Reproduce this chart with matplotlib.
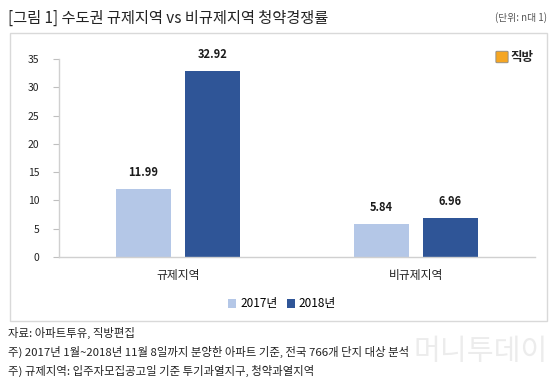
import matplotlib
matplotlib.use("Agg")
import matplotlib.pyplot as plt
from matplotlib.patches import Rectangle, FancyBboxPatch
import numpy as np

plt.rcParams['font.family'] = ['Noto Sans CJK KR', 'DejaVu Sans']

categories = ['규제지역', '비규제지역']
series_names = ['2017년', '2018년']
values_2017 = [11.99, 5.84]
values_2018 = [32.92, 6.96]
yticks = [0, 5, 10, 15, 20, 25, 30, 35]
colors = ['#B4C7E7', '#2F5597']

W, H = 559, 379
fig = plt.figure(figsize=(W/100, H/100), dpi=100)

def fx(px): return px / W
def fy(py): return 1 - py / H

# chart box
fig.patches.append(Rectangle((fx(10), fy(321)), fx(547) - fx(10), fy(33) - fy(321),
                             transform=fig.transFigure, facecolor='white',
                             edgecolor='#D9D9D9', linewidth=1.0, zorder=-10))

ax = fig.add_axes([fx(59), fy(257), fx(535) - fx(59), fy(59) - fy(257)])
ax.set_zorder(5)
ax.set_facecolor('none')
x = np.arange(len(categories))
bw = 0.227
off = 0.145
b1 = ax.bar(x - off, values_2017, bw, color=colors[0], label=series_names[0])
b2 = ax.bar(x + off, values_2018, bw, color=colors[1], label=series_names[1])
for bars, vals in ((b1, values_2017), (b2, values_2018)):
    for r, v in zip(bars, vals):
        ax.annotate(f'{v:.2f}', (r.get_x() + r.get_width()/2, v), xytext=(0, 7),
                    textcoords='offset points', ha='center', va='bottom',
                    fontsize=8, fontweight='bold', color='#1a1a1a')
ax.set_xlim(-0.5, 1.5)
ax.set_ylim(0, 35)
ax.set_yticks(yticks)
ax.set_xticks(x)
ax.set_xticklabels(categories, fontsize=8.5, color='#222222')
ax.tick_params(axis='x', length=0, pad=9)
ax.tick_params(axis='y', length=4, width=0.8, color='#BFBFBF', labelsize=7.5,
               labelcolor='#222222', pad=10)
for s in ['top', 'right']:
    ax.spines[s].set_visible(False)
for s in ['left', 'bottom']:
    ax.spines[s].set_color('#D0D0D0')
    ax.spines[s].set_linewidth(1.0)

leg = fig.legend(handles=[b1, b2], labels=series_names, loc='center',
                 bbox_to_anchor=(fx(282), fy(304)), ncol=2, frameon=False,
                 fontsize=8.5, handlelength=0.7, handleheight=0.7,
                 handletextpad=0.3, columnspacing=0.8)

# title
fig.text(fx(8), fy(18), '[그림 1] 수도권 규제지역 vs 비규제지역 청약경쟁률',
         fontsize=11, color='#222222', ha='left', va='center', fontweight='medium')
fig.text(fx(547), fy(18), '(단위: n대 1)', fontsize=7, color='#555555',
         ha='right', va='center')

# logo
fig.patches.append(FancyBboxPatch((fx(497), fy(62)), fx(10), fy(52) - fy(62),
                                  boxstyle='round,pad=0.002', transform=fig.transFigure,
                                  facecolor='#F5A623', edgecolor='#888888', linewidth=0.6))
fig.text(fx(510), fy(57), '직방', fontsize=9, fontweight='bold', color='#222222',
         ha='left', va='center')

# footnotes
notes = ['자료: 아파트투유, 직방편집',
         '주) 2017년 1월~2018년 11월 8일까지 분양한 아파트 기준, 전국 766개 단지 대상 분석',
         '주) 규제지역: 입주자모집공고일 기준 투기과열지구, 청약과열지역']
for t, py in zip(notes, [333, 352, 371]):
    fig.text(fx(8), fy(py), t, fontsize=8.2, color='#222222', ha='left', va='center')

# watermark
fig.text(fx(548), fy(352), '머니투데이', fontsize=21, color='#E0E0E0', alpha=0.6,
         ha='right', va='center')

fig.savefig('out.png', dpi=100)
